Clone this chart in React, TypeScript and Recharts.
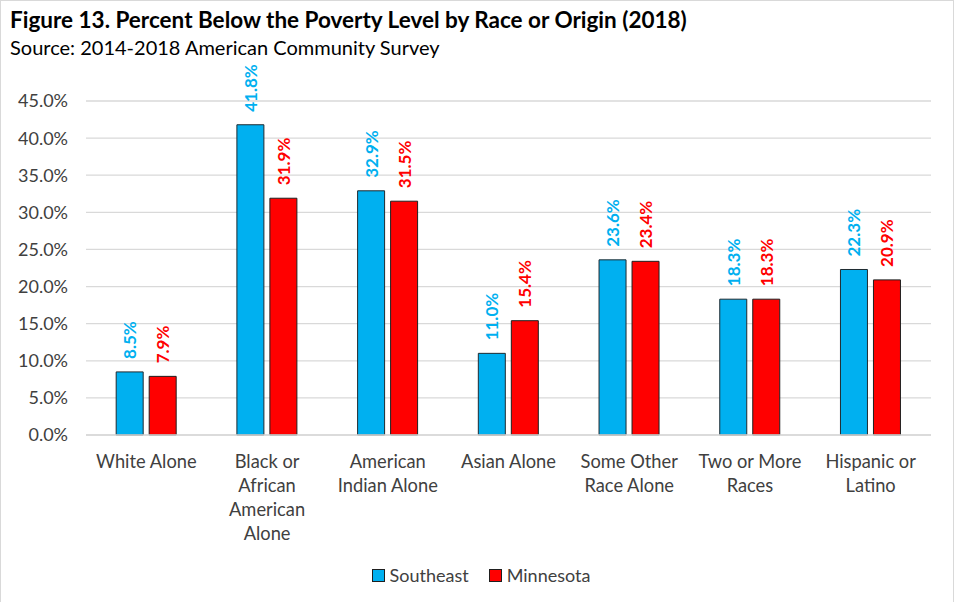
import React from 'react';
import { BarChart, Bar, XAxis, YAxis, CartesianGrid, LabelList } from 'recharts';

const categories = [
  'White Alone',
  'Black or African American Alone',
  'American Indian Alone',
  'Asian Alone',
  'Some Other Race Alone',
  'Two or More Races',
  'Hispanic or Latino',
];
const southeast = [8.5, 41.8, 32.9, 11.0, 23.6, 18.3, 22.3];
const minnesota = [7.9, 31.9, 31.5, 15.4, 23.4, 18.3, 20.9];
const yTicks = [0, 5, 10, 15, 20, 25, 30, 35, 40, 45];

const BLUE = '#00B0F0';
const RED = '#FF0000';
const FONT = 'Lato, "Open Sans", sans-serif';

const data = categories.map((c, i) => ({ name: c, southeast: southeast[i], minnesota: minnesota[i] }));

function wrap(text: string, max = 12) {
  const lines: string[] = [];
  let cur = '';
  text.split(' ').forEach(w => {
    if (!cur) cur = w;
    else if ((cur + ' ' + w).length <= max) cur += ' ' + w;
    else { lines.push(cur); cur = w; }
  });
  if (cur) lines.push(cur);
  return lines;
}

function CatTick({ x, y, payload }: any) {
  const lines = wrap(payload.value);
  return (
    <text x={x} y={y} textAnchor="middle" fill="#404040" fontSize={18.3} fontFamily={FONT}>
      {lines.map((l, i) => (
        <tspan key={i} x={x} dy={i === 0 ? 25 : 24}>{l}</tspan>
      ))}
    </text>
  );
}

const valueLabel = (color: string) => (props: any) => {
  const { x, y, width, value } = props;
  const cx = x + width / 2;
  const ty = y - 13;
  return (
    <text
      x={cx}
      y={ty}
      transform={`rotate(-90 ${cx} ${ty})`}
      textAnchor="start"
      dominantBaseline="central"
      fill={color}
      fontSize={17}
      fontWeight="bold"
      fontFamily={FONT}
    >
      {value.toFixed(1)}%
    </text>
  );
};

const legendItems = [
  { label: 'Southeast', color: BLUE },
  { label: 'Minnesota', color: RED },
];

export default function App() {
  return (
    <div style={{ position: 'relative', width: 952, height: 602, border: '1px solid #d9d9d9', borderBottom: 'none', background: '#fff', fontFamily: FONT }}>
      <style>{'body{margin:0}'}</style>
      <div style={{ position: 'absolute', left: 9, top: 5, fontSize: 22.5, fontWeight: 'bold', color: '#000', whiteSpace: 'nowrap' }}>
        Figure 13. Percent Below the Poverty Level by Race or Origin (2018)
      </div>
      <div style={{ position: 'absolute', left: 9, top: 34, fontSize: 20, color: '#000', whiteSpace: 'nowrap' }}>
        Source: 2014-2018 American Community Survey
      </div>
      <div style={{ position: 'absolute', left: 0, top: 0 }}>
        <BarChart
          width={952}
          height={602}
          data={data}
          margin={{ top: 100, right: 22, left: 15, bottom: 0 }}
          barGap={6}
          barCategoryGap="25%"
        >
          <CartesianGrid vertical={false} stroke="#d9d9d9" strokeWidth={1.3} />
          <XAxis
            dataKey="name"
            tick={<CatTick />}
            tickLine={false}
            axisLine={{ stroke: '#d9d9d9', strokeWidth: 1.3 }}
            interval={0}
            height={168}
          />
          <YAxis
            width={70}
            domain={[0, 45]}
            ticks={yTicks}
            tickFormatter={v => `${v.toFixed(1)}%`}
            tick={{ fill: '#404040', fontSize: 18, fontFamily: FONT }}
            tickLine={false}
            axisLine={false}
            tickMargin={12}
          />
          <Bar dataKey="southeast" fill={BLUE} stroke="#1f2a30" strokeWidth={1} isAnimationActive={false}>
            <LabelList dataKey="southeast" content={valueLabel(BLUE)} />
          </Bar>
          <Bar dataKey="minnesota" fill={RED} stroke="#1f1f1f" strokeWidth={1} isAnimationActive={false}>
            <LabelList dataKey="minnesota" content={valueLabel(RED)} />
          </Bar>
        </BarChart>
      </div>
      <div style={{ position: 'absolute', left: 4, top: 563, width: 952, display: 'flex', justifyContent: 'center', gap: 20, fontSize: 18, color: '#404040' }}>
        {legendItems.map(it => (
          <div key={it.label} style={{ display: 'flex', alignItems: 'center', gap: 5 }}>
            <span style={{ width: 11, height: 11, background: it.color, border: '1px solid #1f1f1f', display: 'inline-block' }} />
            <span>{it.label}</span>
          </div>
        ))}
      </div>
    </div>
  );
}
